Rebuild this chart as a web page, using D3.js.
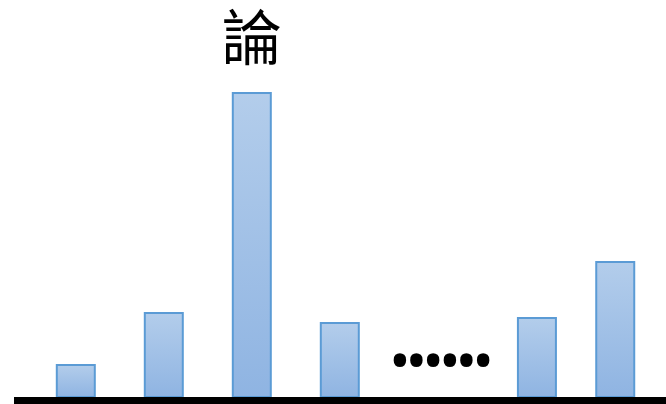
<!DOCTYPE html>
<html><head><meta charset="utf-8">
<script src="https://cdn.jsdelivr.net/npm/d3@7"></script>
<style>body{margin:0;background:#fff}svg{display:block}</style>
</head><body>
<script>
const titleText = "論";
const categories = ["1","2","3","4","n-1","n"];
const slots = [1, 2, 3, 4, 6.24, 7.13];
const values = [32, 84, 304, 74, 79, 135];
const ellipsisSlot = 5.135;
const ellipsisText = "......";

const W = 666, H = 404;
const svg = d3.select("body").append("svg").attr("width", W).attr("height", H);
const x = d3.scaleLinear().domain([0, 8]).range([-12.2, 691.8]);
const y = d3.scaleLinear().domain([0, 397]).range([397, 0]);
const bw = 38;

const defs = svg.append("defs");
const g = defs.append("linearGradient").attr("id","bg").attr("x1",0).attr("y1",0).attr("x2",0).attr("y2",1);
g.append("stop").attr("offset","0%").attr("stop-color","#b3cdeb");
g.append("stop").attr("offset","100%").attr("stop-color","#8fb4e2");

const data = categories.map((c,i)=>({c, s:slots[i], v:values[i]}));
svg.selectAll("rect.bar").data(data).join("rect").attr("class","bar")
  .attr("x", d=>x(d.s)-bw/2).attr("width", bw)
  .attr("y", d=>y(d.v)).attr("height", d=>y(0)-y(d.v))
  .attr("fill","url(#bg)").attr("stroke","#5b9bd5").attr("stroke-width",2);

svg.append("line").attr("x1",14).attr("x2",W).attr("y1",y(0)+3.5).attr("y2",y(0)+3.5)
  .attr("stroke","#000").attr("stroke-width",7);

const ex = x(ellipsisSlot);
svg.append("text").attr("x", 0).attr("y", 0)
  .attr("transform", `translate(${ex},366) scale(0.95,1.08)`)
  .attr("text-anchor","middle").attr("font-family","Noto Sans").attr("font-weight","bold")
  .attr("font-size",76).attr("letter-spacing","-3.8px").attr("fill","#000").text(ellipsisText);

svg.append("text").attr("x", x(3)).attr("y", 60)
  .attr("text-anchor","middle").attr("font-family","Noto Sans CJK TC").attr("font-size",60)
  .attr("fill","#000").text(titleText);
</script>
</body></html>
